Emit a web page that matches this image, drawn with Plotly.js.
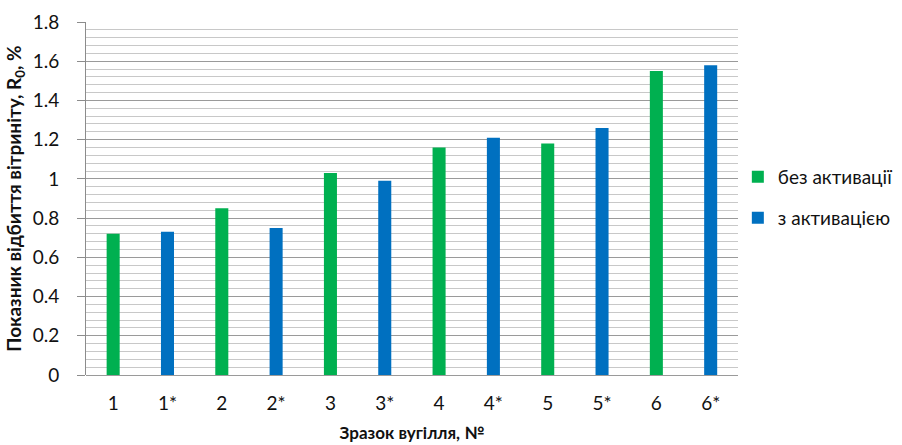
<!DOCTYPE html>
<html>
<head>
<meta charset="utf-8">
<script src="https://cdn.plot.ly/plotly-3.0.1.min.js"></script>
<style>
  html, body { margin: 0; padding: 0; background: #ffffff; }
  #chart { width: 902px; height: 445px; }
</style>
</head>
<body>
<div id="chart"></div>
<script>
// Samples without activation (green) and with activation (blue)
const categories = ['1', '1*', '2', '2*', '3', '3*', '4', '4*', '5', '5*', '6', '6*'];
const plainSamples = ['1', '2', '3', '4', '5', '6'];
const plainValues = [0.72, 0.85, 1.03, 1.16, 1.18, 1.55];
const activatedSamples = ['1*', '2*', '3*', '4*', '5*', '6*'];
const activatedValues = [0.73, 0.75, 0.99, 1.21, 1.26, 1.58];
const seriesNames = ['без активації', 'з активацією'];
const yTicks = [0, 0.2, 0.4, 0.6, 0.8, 1, 1.2, 1.4, 1.6, 1.8];

const FONT = 'Lato, "Noto Sans", sans-serif';

const traces = [
  {
    type: 'bar',
    name: seriesNames[0],
    x: plainSamples,
    y: plainValues,
    width: 0.24,
    marker: { color: '#00b050' },
    legend: 'legend',
    hoverinfo: 'x+y'
  },
  {
    type: 'bar',
    name: seriesNames[1],
    x: activatedSamples,
    y: activatedValues,
    width: 0.24,
    marker: { color: '#0070c0' },
    legend: 'legend2',
    hoverinfo: 'x+y'
  }
];

const legendBase = {
  xref: 'container', yref: 'container',
  x: 0.818, xanchor: 'left', yanchor: 'middle',
  font: { family: FONT, size: 19, color: '#111' },
  bgcolor: 'rgba(0,0,0,0)',
  itemclick: false, itemdoubleclick: false
};

const layout = {
  width: 902,
  height: 445,
  margin: { l: 86, r: 157, t: 22, b: 70 },
  paper_bgcolor: '#ffffff',
  plot_bgcolor: '#ffffff',
  barmode: 'overlay',
  showlegend: true,
  legend: Object.assign({}, legendBase, { y: 1 - 177 / 445 }),
  legend2: Object.assign({}, legendBase, { y: 1 - 218 / 445 }),
  font: { family: FONT, size: 19, color: '#111' },
  xaxis: {
    type: 'category',
    categoryorder: 'array',
    categoryarray: categories,
    tickvals: categories,
    ticktext: categories,
    showgrid: false,
    zeroline: false,
    showline: false,
    ticks: '',
    ticklabelstandoff: 15,
    tickfont: { family: FONT, size: 19, color: '#111' },
    title: {
      text: 'Зразок вугілля, №',
      font: { family: FONT, size: 17, color: '#111', weight: 'bold' },
      standoff: 14
    }
  },
  yaxis: {
    range: [0, 1.8],
    tickvals: yTicks,
    ticktext: yTicks.map(String),
    showgrid: true,
    gridcolor: '#9a9a9a',
    gridwidth: 1,
    zeroline: true,
    zerolinecolor: '#9a9a9a',
    zerolinewidth: 1,
    showline: true,
    linecolor: '#8c8c8c',
    linewidth: 1,
    ticks: 'outside',
    ticklen: 8,
    tickcolor: '#8c8c8c',
    ticklabelstandoff: 14,
    tickfont: { family: FONT, size: 19, color: '#111' },
    minor: {
      dtick: 0.04,
      tick0: 0,
      showgrid: true,
      gridcolor: '#c8c8c8',
      gridwidth: 1,
      ticks: ''
    },
    title: {
      text: 'Показник відбиття вітриніту, R<sub>0</sub>, %',
      font: { family: FONT, size: 19, color: '#111', weight: 'bold' },
      standoff: 6
    }
  }
};

Plotly.newPlot('chart', traces, layout, { displayModeBar: false, staticPlot: true });
</script>
</body>
</html>
